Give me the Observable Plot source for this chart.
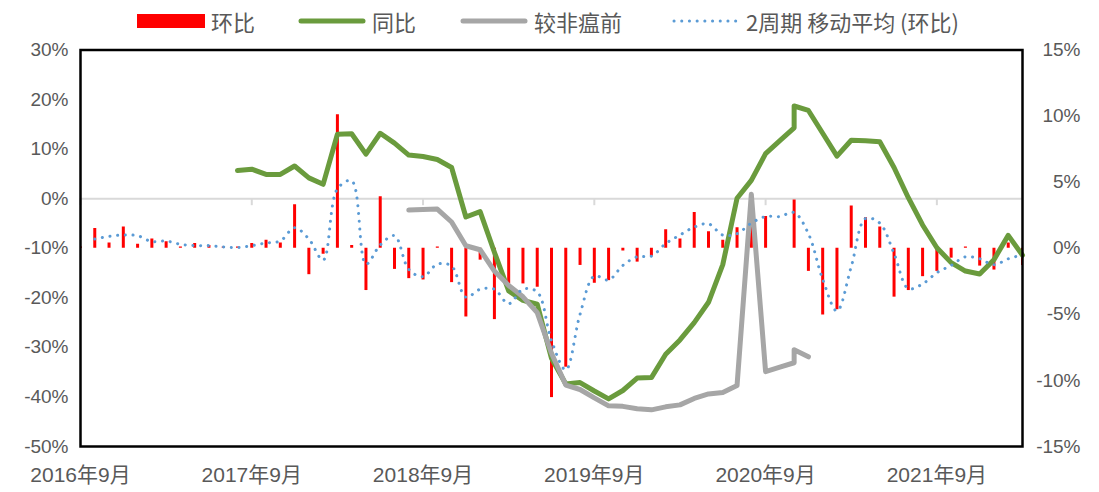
<!DOCTYPE html>
<html>
<head>
<meta charset="utf-8">
<script src="https://cdn.jsdelivr.net/npm/d3@7"></script>
<script src="https://cdn.jsdelivr.net/npm/@observablehq/plot@0.6"></script>
<style>
  body { margin: 0; background: #fff; width: 1099px; height: 492px; overflow: hidden; font-family: "Noto Sans CJK SC", sans-serif; }
  #legend { position: relative; height: 40px; }
  .item { position: absolute; top: 7px; display: flex; align-items: center; font-size: 22px; color: #595959; line-height: 28px; white-space: nowrap; }
  .sw { width: 68px; margin-right: 6px; }
</style>
</head>
<body>
<div id="legend"></div>
<div id="chart"></div>
<script>
// ---- data (month strings; 环比 & moving average on right axis, 同比 & 较非瘟前 on left axis) ----
const barMonths = [
  "2016-09","2016-10","2016-11","2016-12","2017-01","2017-02","2017-03","2017-04","2017-05","2017-06",
  "2017-07","2017-08","2017-09","2017-10","2017-11","2017-12","2018-01","2018-02","2018-03","2018-04",
  "2018-05","2018-06","2018-07","2018-08","2018-09","2018-10","2018-11","2018-12","2019-01","2019-02",
  "2019-03","2019-04","2019-05","2019-06","2019-07","2019-08","2019-09","2019-10","2019-11","2019-12",
  "2020-01","2020-02","2020-03","2020-04","2020-05","2020-06","2020-07","2020-08","2020-09","2020-10",
  "2020-11","2020-12","2021-01","2021-02","2021-03","2021-04","2021-05","2021-06","2021-07","2021-08",
  "2021-09","2021-10","2021-11","2021-12","2022-01","2022-02","2022-03"
];
const momValues = [
  0.1, 1.5, 0.4, 1.6, 0.3, 0.7, 0.5, 0.1, 0.35, 0.2,
  0.1, 0.1, 0.35, 0.6, 0.4, 3.3, -2.0, -0.45, 10.1, 0.2,
  -3.2, 3.9, -1.6, -2.3, -2.4, 0.1, -2.6, -5.2, -0.9, -5.4,
  -2.7, -2.7, -2.95, -11.3, -9.0, -1.3, -2.65, -2.45, -0.2, -1.05,
  -0.6, 1.4, 0.7, 2.7, 1.25, 0.6, 1.55, 2.2, 2.4, null,
  3.65, -1.75, -5.05, -4.65, 3.2, 2.3, 1.6, -3.7, -3.2, -2.15,
  -1.75, -0.75, 0.1, -1.35, -1.65, 0.4, -1.3
];
const maMonths = barMonths.slice(1);
const maValues = [
  0.7, 0.9, 1.0, 0.95, 0.5, 0.55, 0.3, 0.2, 0.2, 0.1,
  0.05, 0.2, 0.4, 0.55, 1.55, 0.7, -0.9, 4.5, 5.1, -1.2,
  0.25, 0.95, -1.6, -2.15, -1.2, -1.35, -3.7, -3.1, -3.1, -4.2,
  -3.1, -3.3, -7.0, -9.2, -5.0, -2.1, -2.4, -1.3, -0.65, -0.6,
  0.35, 1.0, 1.6, 1.85, 1.0, 1.1, 1.9, 2.4, 2.4, 2.7,
  1.1, -2.35, -4.75, -1.4, 2.25, 1.9, -0.4, -3.05, -2.7, -1.85,
  -1.3, -0.65, -0.8, -1.25, -0.8, -0.5
];
const yoyMonths = [
  "2017-08","2017-09","2017-10","2017-11","2017-12","2018-01","2018-02","2018-03","2018-04","2018-05",
  "2018-06","2018-07","2018-08","2018-09","2018-10","2018-11","2018-12","2019-01","2019-02","2019-03",
  "2019-04","2019-05","2019-06","2019-07","2019-08","2019-09","2019-10","2019-11","2019-12","2020-01",
  "2020-02","2020-03","2020-04","2020-05","2020-06","2020-07","2020-08","2020-09","2020-10","2020-11",
  "2020-11","2020-12","2021-01","2021-02","2021-03","2021-04","2021-05","2021-06","2021-07","2021-08",
  "2021-09","2021-10","2021-11","2021-12","2022-01","2022-02","2022-03"
];
const yoyValues = [
  5.7, 5.95, 4.9, 4.9, 6.6, 4.2, 2.9, 13.0, 13.1, 9.0,
  13.2, 11.2, 8.8, 8.5, 7.9, 6.3, -3.7, -2.6, -10.8, -18.6,
  -20.5, -21.3, -32.2, -37.4, -37.1, -38.8, -40.4, -38.7, -36.2, -36.1,
  -31.4, -28.5, -25.0, -20.9, -13.3, 0.1, 3.7, 9.1, 11.7, 14.3,
  18.7, 17.8, 13.2, 8.6, 11.8, 11.7, 11.5, 6.3, 0.2, -5.3,
  -9.9, -12.9, -14.6, -15.2, -12.3, -7.4, -11.4
];
const preAsfMonths = [
  "2018-08","2018-09","2018-10","2018-11","2018-12","2019-01","2019-02","2019-03","2019-04","2019-05",
  "2019-06","2019-07","2019-08","2019-09","2019-10","2019-11","2019-12","2020-01","2020-02","2020-03",
  "2020-04","2020-05","2020-06","2020-07","2020-08","2020-09","2020-10","2020-11","2020-11","2020-12"
];
const preAsfValues = [
  -2.3, -2.2, -2.1, -4.7, -9.5, -10.3, -14.6, -17.5, -19.8, -23.0,
  -31.2, -37.6, -38.5, -40.2, -41.8, -41.9, -42.4, -42.6, -42.0, -41.6,
  -40.3, -39.4, -39.1, -37.7, 0.9, -34.9, -34.0, -33.1, -30.5, -31.9
];
const leftTicks = [30, 20, 10, 0, -10, -20, -30, -40, -50];
const rightTicks = [15, 10, 5, 0, -5, -10, -15];
const xTickMonths = ["2016-09","2017-09","2018-09","2019-09","2020-09","2021-09"];
const legendItems = ["环比", "同比", "较非瘟前", "2周期 移动平均 (环比)"];

// ---- helpers ----
const startMonth = "2016-09", endMonth = "2022-03";
const idx = s => { const [y, m] = s.split("-").map(Number); const [y0, m0] = startMonth.split("-").map(Number); return (y - y0) * 12 + (m - m0); };
const leftDom = [-50, 30], rightDom = [-15, 15];
const toLeft = r => leftDom[0] + (r - rightDom[0]) * (leftDom[1] - leftDom[0]) / (rightDom[1] - rightDom[0]);
const fromLeft = l => rightDom[0] + (l - leftDom[0]) * (rightDom[1] - rightDom[0]) / (leftDom[1] - leftDom[0]);
const fmtMonth = i => { const t = i + 8; return `${2016 + Math.floor(t / 12)}年${t % 12 + 1}月`; };

const bars = barMonths.map((m, i) => ({x: idx(m), v: momValues[i]})).filter(d => d.v != null);
const ma = maMonths.map((m, i) => ({x: idx(m), v: maValues[i]}));
const yoy = yoyMonths.map((m, i) => ({x: idx(m), v: yoyValues[i]}));
const pre = preAsfMonths.map((m, i) => ({x: idx(m), v: preAsfValues[i]}));
const xTicks = xTickMonths.map(idx);

const colors = {mom: "#FF0000", yoy: "#6A9B3D", pre: "#A6A6A6", ma: "#5B9BD5"};

// ---- legend ----
const legend = document.getElementById("legend");
const lefts = [137, 298, 460, 672];
const swatches = [
  `<svg class="sw" width="68" height="16"><rect x="0" y="1" width="68" height="14" fill="${colors.mom}"/></svg>`,
  `<svg class="sw" width="68" height="16"><line x1="3" x2="65" y1="8" y2="8" stroke="${colors.yoy}" stroke-width="5" stroke-linecap="round"/></svg>`,
  `<svg class="sw" width="68" height="16"><line x1="3" x2="65" y1="8" y2="8" stroke="${colors.pre}" stroke-width="5" stroke-linecap="round"/></svg>`,
  `<svg class="sw" width="68" height="16"><line x1="2" x2="66" y1="8" y2="8" stroke="${colors.ma}" stroke-width="3" stroke-dasharray="0.1 7.6" stroke-linecap="round"/></svg>`
];
legendItems.forEach((t, i) => {
  const d = document.createElement("div");
  d.className = "item";
  d.style.left = lefts[i] + "px";
  d.innerHTML = swatches[i] + `<span>${t}</span>`;
  legend.appendChild(d);
});

// ---- chart ----
const W = 1099, H = 452, mt = 9.5, mb = 46, ml = 80, mr = 77;
const innerH = H - mt - mb;
const tickUnits = 7 * (leftDom[1] - leftDom[0]) / innerH;
const font = '"Liberation Sans","Noto Sans CJK SC",sans-serif';

const chart = Plot.plot({
  width: W, height: H,
  marginTop: mt, marginBottom: mb, marginLeft: ml, marginRight: mr,
  style: {fontFamily: font, fontSize: "19px", color: "#595959", background: "#fff"},
  x: {domain: [0, idx(endMonth)], label: null},
  y: {domain: leftDom, label: null},
  marks: [
    Plot.ruleY([0], {stroke: "#D9D9D9", strokeWidth: 2}),
    Plot.ruleX(xTicks, {x: d => d, y1: () => 0, y2: () => -tickUnits, stroke: "#D9D9D9", strokeWidth: 2}),
    Plot.ruleX(bars, {x: "x", y1: () => toLeft(0), y2: d => toLeft(d.v), stroke: colors.mom, strokeWidth: 3, clip: true}),
    Plot.line(yoy, {x: "x", y: "v", stroke: colors.yoy, strokeWidth: 5, strokeLinejoin: "round", strokeLinecap: "round"}),
    Plot.line(pre, {x: "x", y: "v", stroke: colors.pre, strokeWidth: 5, strokeLinejoin: "round", strokeLinecap: "round"}),
    Plot.line(ma, {x: "x", y: d => toLeft(d.v), stroke: colors.ma, strokeWidth: 3, strokeDasharray: "0.1 7.6", strokeLinecap: "round", curve: "catmull-rom"}),
    Plot.axisY(leftTicks, {anchor: "left", label: null, tickSize: 0, tickPadding: 12, tickFormat: d => d + "%", fontSize: 19}),
    Plot.axisY(rightTicks.map(toLeft), {anchor: "right", label: null, tickSize: 0, tickPadding: 58, textAnchor: "end", tickFormat: v => Math.round(fromLeft(v)) + "%", fontSize: 19}),
    Plot.axisX(xTicks, {anchor: "bottom", label: null, tickSize: 0, tickPadding: 21, tickFormat: fmtMonth, fontSize: 21, fontFamily: font}),
    Plot.frame({stroke: "#000", strokeWidth: 2.5})
  ]
});
document.getElementById("chart").appendChild(chart);
</script>
</body>
</html>
